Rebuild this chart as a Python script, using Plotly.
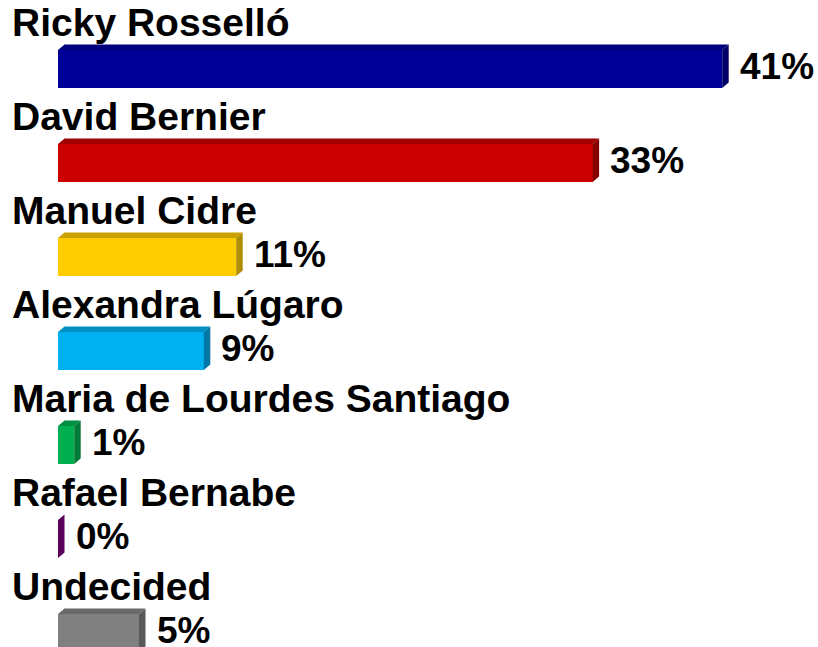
import plotly.graph_objects as go

candidates = ["Ricky Rosselló", "David Bernier", "Manuel Cidre", "Alexandra Lúgaro",
              "Maria de Lourdes Santiago", "Rafael Bernabe", "Undecided"]
values = [41, 33, 11, 9, 1, 0, 5]
value_labels = ["41%", "33%", "11%", "9%", "1%", "0%", "5%"]
front_colors = ["#000099", "#CC0000", "#FFCC00", "#00B0F0", "#00B050", "#660066", "#808080"]
top_colors = ["#00007E", "#A00000", "#C9A100", "#0090C4", "#008F40", "#520052", "#6A6A6A"]
side_colors = ["#000066", "#880000", "#B08C00", "#0077A6", "#007A37", "#5A005A", "#595959"]

W, H = 818, 647
px_per_x = 16.2
x0_px = 58
row_px = 94
row0_px = 69

xr = [-x0_px / px_per_x, (W - x0_px) / px_per_x]
yr = [(H - row0_px) / row_px, -row0_px / row_px]

bar_w = 38 / row_px
dx = 6.5 / px_per_x
dy = 5.5 / row_px

ypos = list(range(len(candidates)))

fig = go.Figure()
fig.add_trace(go.Bar(
    x=values, y=ypos, orientation="h", width=bar_w,
    marker=dict(color=front_colors, line=dict(width=0)),
    hoverinfo="skip", showlegend=False,
))

shapes = []
annotations = []
for i, (name, v, lab) in enumerate(zip(candidates, values, value_labels)):
    yt = i - bar_w / 2
    yb = i + bar_w / 2
    shapes.append(dict(
        type="path", xref="x", yref="y", layer="above",
        path=f"M 0 {yt} L {dx} {yt - dy} L {v + dx} {yt - dy} L {v} {yt} Z",
        fillcolor=top_colors[i], line=dict(width=0),
    ))
    shapes.append(dict(
        type="path", xref="x", yref="y", layer="above",
        path=f"M {v} {yt} L {v + dx} {yt - dy} L {v + dx} {yb - dy} L {v} {yb} Z",
        fillcolor=side_colors[i], line=dict(width=0),
    ))
    annotations.append(dict(
        x=10 / W, xref="paper", y=i - 0.49, yref="y",
        text=f"<b>{name}</b>", showarrow=False, xanchor="left", yanchor="middle",
        font=dict(family="Liberation Sans, Arial, sans-serif", size=39, color="#000000"),
    ))
    annotations.append(dict(
        x=v + dx + 9 / px_per_x, xref="x", y=i - 0.03, yref="y",
        text=f"<b>{lab}</b>", showarrow=False, xanchor="left", yanchor="middle",
        font=dict(family="Liberation Sans, Arial, sans-serif", size=37, color="#000000"),
    ))

fig.update_layout(
    width=W, height=H,
    margin=dict(l=0, r=0, t=0, b=0),
    paper_bgcolor="white", plot_bgcolor="white",
    xaxis=dict(range=xr, visible=False, fixedrange=True),
    yaxis=dict(range=yr, visible=False, fixedrange=True),
    shapes=shapes, annotations=annotations,
    bargap=0,
)

fig.write_html("out.html", post_script="document.body.style.margin='0';",
               config={"displayModeBar": False})
